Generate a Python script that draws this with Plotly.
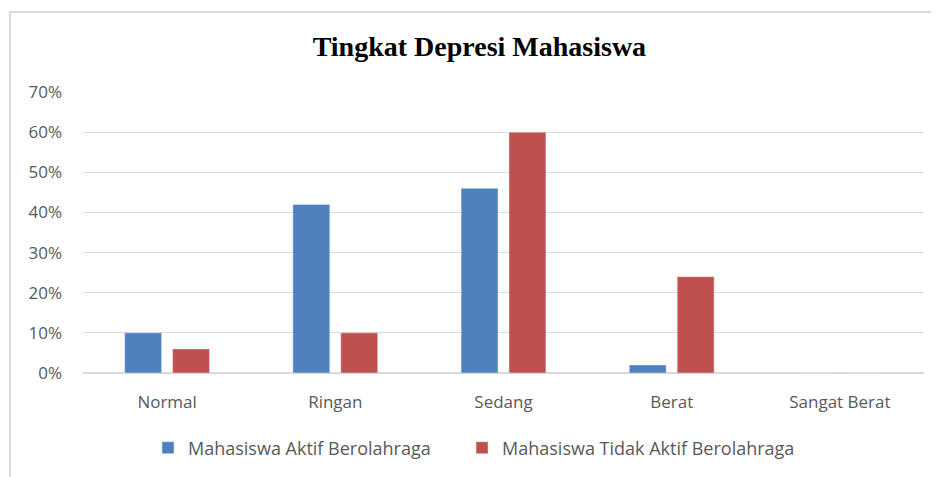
import plotly.graph_objects as go

categories = ["Normal", "Ringan", "Sedang", "Berat", "Sangat Berat"]
aktif = [0.10, 0.42, 0.46, 0.02, 0.0]
tidak_aktif = [0.06, 0.10, 0.60, 0.24, 0.0]
series_names = ["Mahasiswa Aktif Berolahraga", "Mahasiswa Tidak Aktif Berolahraga"]
y_ticks = [0, 0.1, 0.2, 0.3, 0.4, 0.5, 0.6, 0.7]

fig = go.Figure()
fig.add_trace(go.Bar(x=categories, y=aktif, name=series_names[0], marker_color="#4F81BD",
                     legend="legend", showlegend=True))
fig.add_trace(go.Bar(x=categories, y=tidak_aktif, name=series_names[1], marker_color="#C0504D",
                     legend="legend2", showlegend=True))

legend_common = dict(orientation="h", xanchor="left", y=-0.267, yanchor="middle",
                     font=dict(size=18, color="#595959"), itemwidth=30, bgcolor="rgba(0,0,0,0)")

fig.update_layout(
    width=939, height=477,
    showlegend=True,
    margin=dict(l=75, r=23, t=84, b=112),
    paper_bgcolor="white", plot_bgcolor="white",
    barmode="group", bargap=0.43, bargroupgap=0.23,
    font=dict(family="Open Sans", size=17, color="#595959"),
    title=dict(text="<b>Tingkat Depresi Mahasiswa</b>", x=0.502, xanchor="center", y=0.92, yanchor="middle",
               font=dict(family="Liberation Serif", size=28, color="black")),
    legend=dict(x=0.0773, **legend_common),
    legend2=dict(x=0.4507, **legend_common),
    shapes=[dict(type="rect", xref="paper", yref="paper", x0=-0.0868, x1=1.2, y0=-1.0, y1=1.285,
                 line=dict(color="#D9D9D9", width=2), layer="below")],
)
fig.update_yaxes(range=[0, 0.7], tickvals=y_ticks, tickformat=".0%", showgrid=True,
                 gridcolor="#D9D9D9", gridwidth=1, zeroline=True, zerolinecolor="#D9D9D9",
                 ticklabelstandoff=20, showline=False, automargin=False)
fig.update_xaxes(showline=False, ticklabelstandoff=17, automargin=False)

fig.write_html("out.html")
